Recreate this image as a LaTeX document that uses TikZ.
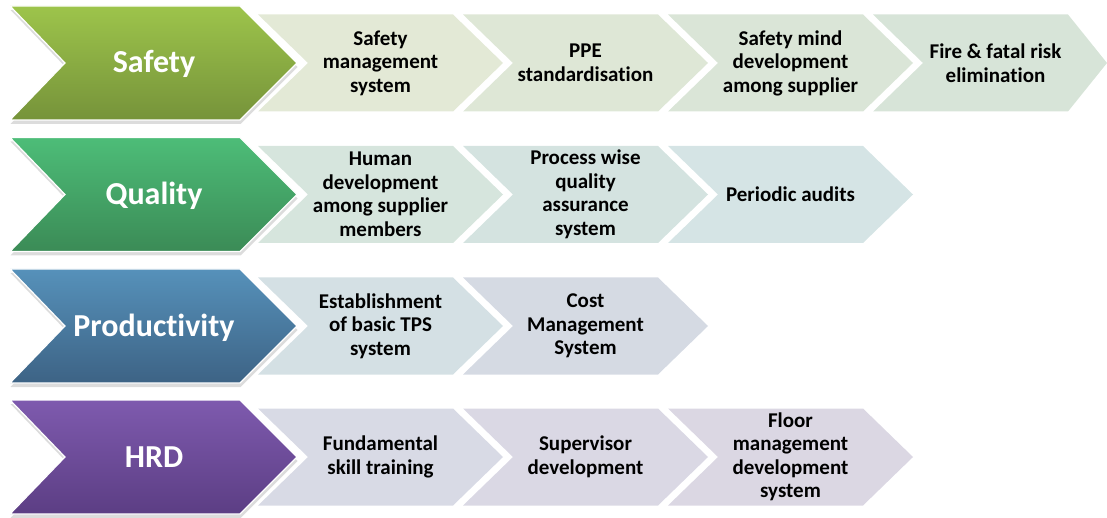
\documentclass[tikz,border=0pt]{standalone}
\usepackage{fontspec}
\setmainfont[Ligatures=NoCommon]{Carlito}
\usetikzlibrary{shadows}

% colours of the four rows
\definecolor{safetytop}{HTML}{9DC44B}
\definecolor{safetybot}{HTML}{76933A}
\definecolor{qualitytop}{HTML}{4DBD78}
\definecolor{qualitybot}{HTML}{3B8B56}
\definecolor{prodtop}{HTML}{5691BA}
\definecolor{prodbot}{HTML}{3D6385}
\definecolor{hrdtop}{HTML}{7E5AAE}
\definecolor{hrdbot}{HTML}{5C3E84}
% pale item chevrons
\definecolor{s1}{HTML}{E3E9D6}
\definecolor{s2}{HTML}{DEE7D6}
\definecolor{s3}{HTML}{DAE5D7}
\definecolor{s4}{HTML}{D7E4D8}
\definecolor{q1}{HTML}{D6E5DD}
\definecolor{q2}{HTML}{D4E3E0}
\definecolor{q3}{HTML}{D5E4E5}
\definecolor{p1}{HTML}{D4E0E4}
\definecolor{p2}{HTML}{D5DAE3}
\definecolor{h1}{HTML}{D8DAE5}
\definecolor{h2}{HTML}{DAD8E4}
\definecolor{h3}{HTML}{DBD7E3}

\begin{document}
\begin{tikzpicture}[x=1pt, y=-1pt,% styles used in image code
main chevron/.style = {top color=#1top, bottom color=#1bot,
                       draw=white, line width=1.2pt,
                       drop shadow={shadow xshift=0.5pt, shadow yshift=-4pt,
                                    opacity=0.28}},
item chevron/.style = {fill=#1},
  main label/.style = {text=white, anchor=base, inner sep=0pt,
                       font=\bfseries\fontsize{32}{36}\selectfont},
  item label/.style = {align=center, inner sep=0pt,
                       font=\bfseries\fontsize{21}{23.5}\selectfont}
                    ]
	\useasboundingbox (0,0) rectangle (1107,518);

	% safety items
	\foreach \k/\col/\d/\txt in {0/s1/50/{Safety\\management\\system},
	                              1/s2/50/{PPE\\standardisation},
	                              2/s3/50/{Safety mind\\development\\among supplier},
	                              3/s4/39/{Fire \& fatal risk\\elimination}}
	{
	\path[item chevron=\col] ({258+205*\k},14.5) -- ++(195,0) -- ++(\d,48.5)
	     -- ++(-\d,48.5) -- ++(-195,0) -- ++(50,-48.5) -- cycle;
	\node[item label] (safety-\k) at ({380.5+205*\k},63) {\txt};
	}

	% quality items
	\foreach \k/\col/\txt in {0/q1/{Human\\development\\among supplier\\members},
	                           1/q2/{Process wise\\quality\\assurance\\system},
	                           2/q3/{Periodic audits}}
	{
	\path[item chevron=\col] ({258+205*\k},146) -- ++(195,0) -- ++(50,48.5)
	     -- ++(-50,48.5) -- ++(-195,0) -- ++(50,-48.5) -- cycle;
	\node[item label] (quality-\k) at ({380.5+205*\k},194.5) {\txt};
	}

	% productivity items
	\foreach \k/\col/\txt in {0/p1/{Establishment\\of basic TPS\\system},
	                           1/p2/{Cost\\Management\\System}}
	{
	\path[item chevron=\col] ({258+205*\k},277.5) -- ++(195,0) -- ++(50,48.5)
	     -- ++(-50,48.5) -- ++(-195,0) -- ++(50,-48.5) -- cycle;
	\node[item label] (prod-\k) at ({380.5+205*\k},326) {\txt};
	}

	% hrd items
	\foreach \k/\col/\txt in {0/h1/{Fundamental\\skill training},
	                           1/h2/{Supervisor\\development},
	                           2/h3/{Floor\\management\\development\\system}}
	{
	\path[item chevron=\col] ({258+205*\k},408.5) -- ++(195,0) -- ++(50,48.5)
	     -- ++(-50,48.5) -- ++(-195,0) -- ++(50,-48.5) -- cycle;
	\node[item label] (hrd-\k) at ({380.5+205*\k},457) {\txt};
	}

	% main chevrons on top
	\foreach \cy/\col/\lbl in {63/safety/Safety, 194.5/quality/Quality,
	                           326/prod/Productivity, 457/hrd/HRD}
	{
	\path[main chevron=\col] (10,\cy-57) -- (240,\cy-57) -- (297,\cy)
	     -- (240,\cy+57) -- (10,\cy+57) -- (65,\cy) -- cycle;
	\node[main label] (\col) at (154,\cy+10) {\lbl};
	}
\end{tikzpicture}
\end{document}
